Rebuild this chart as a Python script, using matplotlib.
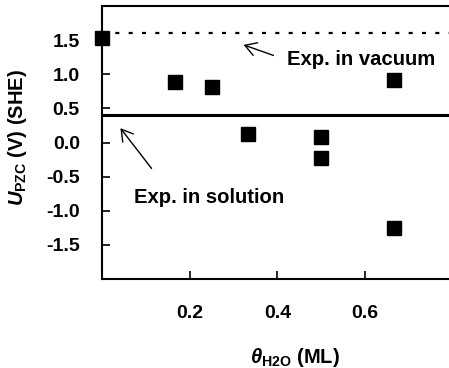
import matplotlib
matplotlib.use("Agg")
from matplotlib import pyplot as plt

# coverage of water (ML) and potential of zero charge (V vs SHE)
theta = [0.0, 1 / 6, 0.25, 1 / 3, 0.5, 0.5, 2 / 3, 2 / 3]
u_pzc = [1.53, 0.89, 0.81, 0.12, 0.08, -0.23, 0.91, -1.25]

exp_vacuum = 1.61
exp_solution = 0.41

x_ticks = [0.2, 0.4, 0.6]
y_ticks = [1.5, 1.0, 0.5, 0.0, -0.5, -1.0, -1.5]

plt.rcParams['font.family'] = 'Liberation Sans'
plt.rcParams['font.weight'] = 'bold'
plt.rcParams['mathtext.fontset'] = 'custom'
plt.rcParams['mathtext.it'] = 'Liberation Sans:italic:bold'
plt.rcParams['mathtext.rm'] = 'Liberation Sans:bold'

fig = plt.figure(figsize=(4.49, 3.68), dpi=100)
ax = fig.add_axes([102 / 449, 89 / 368, 350.8 / 449, 273 / 368])

ax.axhline(exp_vacuum, color='black', lw=1.6, ls=(0, (1.8, 4.2)))
ax.axhline(exp_solution, color='black', lw=2.2)
ax.plot(theta, u_pzc, 's', color='black', markersize=9.4, clip_on=False)

arrow = dict(arrowstyle='->,head_length=0.5,head_width=0.3', lw=1.0,
             color='black', mutation_scale=16, shrinkA=0, shrinkB=0)
ax.annotate('', xy=(0.323, 1.43), xytext=(0.391, 1.276), arrowprops=arrow)
ax.text(0.421, 1.216, 'Exp. in vacuum', fontsize=14.6, va='center', ha='left')
ax.annotate('', xy=(0.042, 0.21), xytext=(0.113, -0.38), arrowprops=arrow)
ax.text(0.072, -0.81, 'Exp. in solution', fontsize=14.6, va='center', ha='left')

ax.set_xlim(0, 0.8)
ax.set_ylim(-2, 2)
ax.set_xticks(x_ticks)
ax.set_xticklabels([f'{t:.1f}' for t in x_ticks])
ax.set_yticks(y_ticks)
ax.set_yticklabels([f'{t:.1f}' for t in y_ticks])
ax.tick_params(direction='in', length=6, width=1.2, labelsize=14)
ax.tick_params(axis='x', pad=19)
ax.tick_params(axis='y', pad=16)
for sp in ax.spines.values():
    sp.set_linewidth(1.5)

ax.set_ylabel(r'$U_{\mathrm{PZC}}$ (V) (SHE)', fontsize=14.5, fontweight='bold')
ax.yaxis.set_label_coords(-0.208, 0.518)
ax.set_xlabel(r'$\theta_{\mathrm{H2O}}$ (ML)', fontsize=14.5, fontweight='bold')
ax.xaxis.set_label_coords(0.55, -0.245)

fig.savefig('out.png', dpi=100)
